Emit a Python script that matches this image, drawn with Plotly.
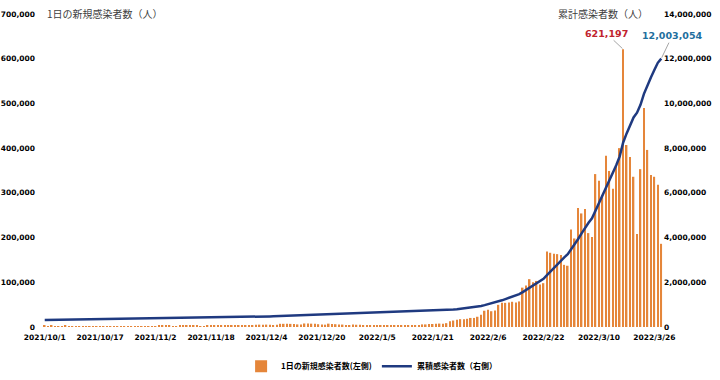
import plotly.graph_objects as go
from datetime import date, timedelta

# ---- data ----
start_date = date(2021, 10, 1)

daily_cases = [
    # Oct 2021
    2490, 2090, 2250, 1670, 1580, 2030, 2430, 2180, 1950, 1590, 1300, 1350, 1580, 1940, 1680, 1620,
    1420, 1050, 1070, 1570, 1440, 1420, 1510, 1270, 1190, 1270, 1950, 2110, 2120, 2060, 1690,
    # Nov 2021
    1590, 1720, 2670, 2480, 2340, 2250, 2220, 1760, 2430, 2520, 2430, 2370, 2320, 2420, 2010,
    2130, 3190, 3290, 3030, 3210, 3120, 2830, 2700, 4120, 3940, 3900, 4070, 3930, 3310, 3030,
    # Dec 2021
    5120, 5270, 4940, 5350, 5130, 4330, 4950, 7180, 7100, 7020, 6980, 6690, 5820, 5570, 7850, 7620,
    7440, 7310, 6240, 5320, 5200, 7460, 6920, 6230, 5840, 5420, 4210, 3870, 5410, 5040, 4880,
    # Jan 2022
    4420, 3830, 3130, 3020, 4440, 4130, 3710, 3510, 3380, 3010, 4390, 4380, 4540, 4170, 4190, 4190,
    4070, 5810, 5800, 6600, 6770, 7010, 7630, 7510, 8570, 13010, 14520, 16100, 17540, 17530, 18340,
    # Feb 2022
    20270, 20270, 22910, 27440, 36360, 38690, 35290, 36720, 49570, 54120, 54000, 54900, 56400, 54600,
    57200, 88000, 93000, 107000, 100000, 103000, 95000, 98000, 169000, 166000, 164000, 163000, 161000, 139000,
    # Mar 2022
    137000, 218000, 198000, 266000, 254000, 264000, 210000, 201000, 342000, 327000, 295000, 383000,
    349000, 309000, 362000, 400000, 621197, 407000, 380000, 336000, 208000, 353000, 490000, 396000,
    340000, 336000, 318000, 186047,
]

cumulative_cases = [
    315400, 317490, 319740, 321410, 322990, 325020, 327450, 329630, 331580, 333170, 334470, 335820,
    337400, 339340, 341020, 342640, 344060, 345110, 346180, 347750, 349190, 350610, 352120, 353390,
    354580, 355850, 357800, 359910, 362030, 364090, 365780,
    367370, 369090, 371760, 374240, 376580, 378830, 381050, 382810, 385240, 387760, 390190, 392560,
    394880, 397300, 399310, 401440, 404630, 407920, 410950, 414160, 417280, 420110, 422810, 426930,
    430870, 434770, 438840, 442770, 446080, 449110,
    454230, 459500, 464440, 469790, 474920, 479250, 484200, 491380, 498480, 505500, 512480, 519170,
    524990, 530560, 538410, 546030, 553470, 560780, 567020, 572340, 577540, 585000, 591920, 598150,
    603990, 609410, 613620, 617490, 622900, 627940, 632820,
    637240, 641070, 644200, 647220, 651660, 655790, 659500, 663010, 666390, 669400, 673790, 678170,
    682710, 686880, 691070, 695260, 699330, 705140, 710940, 717540, 724310, 731320, 738950, 746460,
    755030, 768040, 782560, 798660, 816200, 833730, 852070,
    872340, 892610, 915520, 942960, 979320, 1018010, 1053300, 1090020, 1139590, 1193710, 1247710,
    1302610, 1359010, 1413610, 1470810, 1558810, 1651810, 1758810, 1858810, 1961810, 2056810,
    2154810, 2323810, 2489810, 2653810, 2816810, 2977810, 3116810,
    3253810, 3471810, 3669810, 3935810, 4189810, 4453810, 4663810, 4864810, 5206810, 5533810,
    5828810, 6211810, 6560810, 6869810, 7231810, 7631810, 8253007, 8660007, 9040007, 9376007,
    9584007, 9937007, 10427007, 10823007, 11163007, 11499007, 11817007, 12003054,
]

dates = [start_date + timedelta(days=i) for i in range(len(daily_cases))]
date_labels = [f"{d.year}/{d.month}/{d.day}" for d in dates]
tick_labels = ["2021/10/1", "2021/10/17", "2021/11/2", "2021/11/18", "2021/12/4", "2021/12/20",
               "2022/1/5", "2022/1/21", "2022/2/6", "2022/2/22", "2022/3/10", "2022/3/26"]

left_ticks = [0, 100000, 200000, 300000, 400000, 500000, 600000, 700000]
right_ticks = [0, 2000000, 4000000, 6000000, 8000000, 10000000, 12000000, 14000000]

series_names = ["1日の新規感染者数(左側)", "累積感染者数（右側）"]
left_title = "1日の新規感染者数（人）"
right_title = "累計感染者数（人）"

# ---- styling ----
ORANGE = "#E5863A"
NAVY = "#1F3A80"
TICK_FONT = dict(family="DejaVu Sans", size=7.5, color="#000000")
CJK = "Noto Sans CJK JP"

fig = go.Figure()
fig.add_trace(go.Bar(
    x=date_labels, y=daily_cases, name="<b>%s</b>" % series_names[0],
    marker=dict(color=ORANGE, line=dict(width=0)), yaxis="y",
))
fig.add_trace(go.Scatter(
    x=date_labels, y=cumulative_cases, name="<b>%s</b>" % series_names[1], mode="lines",
    line=dict(color=NAVY, width=2.5), yaxis="y2",
))

peak_idx = daily_cases.index(max(daily_cases))
last_idx = len(cumulative_cases) - 1

fig.update_layout(
    width=720, height=380,
    margin=dict(l=43, r=57, t=14, b=53, autoexpand=False),
    paper_bgcolor="white", plot_bgcolor="white",
    bargap=0.55,
    showlegend=True,
    legend=dict(orientation="h", x=0.53, xanchor="center", y=-0.125, yanchor="middle",
                font=dict(family=CJK, size=8, color="#000000"),
                itemwidth=30, tracegroupgap=0, traceorder="normal"),
    xaxis=dict(type="category", range=[-0.5, len(daily_cases) - 0.5], automargin=False,
               tickmode="array", tickvals=tick_labels, ticktext=["<b>%s</b>" % t for t in tick_labels],
               tickangle=0, showgrid=False, showline=False, zeroline=False, ticks="",
               ticklabelstandoff=4, tickfont=TICK_FONT),
    yaxis=dict(range=[0, 700000], tickmode="array", tickvals=left_ticks, automargin=False,
               ticktext=["<b>%s</b>" % f"{v:,}" for v in left_ticks],
               showgrid=False, zeroline=False, showline=False, ticks="",
               ticklabelstandoff=7, tickfont=TICK_FONT),
    yaxis2=dict(range=[0, 14000000], overlaying="y", side="right", tickmode="array", automargin=False,
                tickvals=right_ticks, ticktext=["<b>%s</b>" % f"{v:,}" for v in right_ticks],
                showgrid=False, zeroline=False, showline=False, ticks="", tickfont=TICK_FONT),
    annotations=[
        dict(xref="paper", yref="paper", x=0.003, y=1.003, xanchor="left", yanchor="middle",
             text=left_title, showarrow=False, font=dict(family=CJK, size=10, color="#404040")),
        dict(xref="paper", yref="paper", x=0.979, y=1.003, xanchor="right", yanchor="middle",
             text=right_title, showarrow=False, font=dict(family=CJK, size=10, color="#404040")),
        dict(x=date_labels[peak_idx], y=daily_cases[peak_idx], xref="x", yref="y",
             text="<b>%s</b>" % f"{daily_cases[peak_idx]:,}", showarrow=True, arrowhead=0,
             arrowwidth=1, arrowcolor="#A6A6A6", ax=-17, ay=-16, standoff=1,
             font=dict(family="DejaVu Sans", size=9.5, color="#C0232E")),
        dict(x=date_labels[last_idx], y=cumulative_cases[last_idx], xref="x", yref="y2",
             text="<b>%s</b>" % f"{cumulative_cases[last_idx]:,}", showarrow=True, arrowhead=0,
             arrowwidth=1, arrowcolor="#A6A6A6", ax=11, ay=-23, standoff=1,
             font=dict(family="DejaVu Sans", size=9.5, color="#1F6F9E")),
    ],
)

fig.write_html("out.html", config={"displayModeBar": False},
               post_script="document.body.style.margin='0px';")
